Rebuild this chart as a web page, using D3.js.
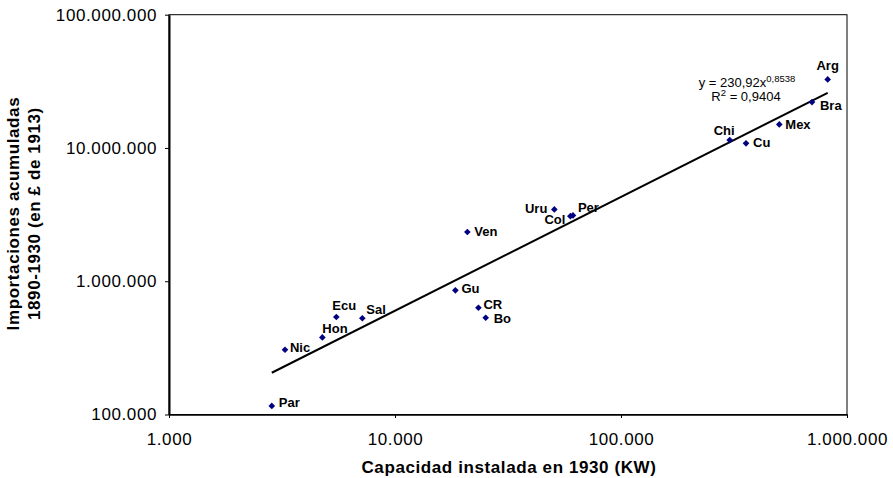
<!DOCTYPE html>
<html>
<head>
<meta charset="utf-8">
<script src="https://cdn.jsdelivr.net/npm/d3@7"></script>
<style>
  body { margin: 0; background: #fff; }
  text { font-family: "Liberation Sans", Arial, Helvetica, sans-serif; }
</style>
</head>
<body>
<svg id="chart" width="893" height="478"></svg>
<script>
// *********** DATA ***************** //
var countries = ["Par", "Nic", "Hon", "Ecu", "Sal", "Gu", "CR", "Bo", "Ven",
                 "Uru", "Col", "Per", "Chi", "Cu", "Mex", "Bra", "Arg"];
// installed capacity in 1930 (KW)
var capacity = [2850, 3260, 4770, 5500, 7170, 18500, 23400, 25200, 20900,
                50700, 59700, 61300, 302700, 357400, 501700, 700000, 821400];
// accumulated imports 1890-1930 (GBP of 1913)
var imports = [116000, 306000, 379000, 539000, 527000, 854000, 633000, 532000, 2340000,
               3460000, 3080000, 3120000, 11460000, 10830000, 15030000, 22100000, 32700000];

var xTicks = [1000, 10000, 100000, 1000000];
var yTicks = [100000, 1000000, 10000000, 100000000];

// power trendline y = a * x^b
var trendA = 230.92, trendB = 0.8538;
var trendLabel = ["y = 230,92x", "0,8538"];
var r2Label = "0,9404";

// label placement next to each marker: [dx, dy, anchor]
var labelOffsets = {
  Par: [7, 1, "start"], Nic: [5, 2, "start"], Hon: [0, -4, "start"],
  Ecu: [-4, -7, "start"], Sal: [4, -4, "start"], Gu: [6, 2.5, "start"],
  CR: [5, 1, "start"], Bo: [8, 5, "start"], Ven: [7, 4, "start"],
  Uru: [-7, 4, "end"], Col: [-5, 8, "end"], Per: [5, -3, "start"],
  Chi: [-16, -5, "start"], Cu: [7, 4, "start"], Mex: [6, 5, "start"],
  Bra: [8, 8, "start"], Arg: [0, -9, "middle"]
};

var points = countries.map(function(c, i) {
  return { name: c, x: capacity[i], y: imports[i] };
});

// *********** SCALES ***************** //
var plotLeft = 169, plotRight = 847, plotTop = 14.7, plotBottom = 414.5;

var x = d3.scaleLog().domain([1000, 1000000]).range([plotLeft, plotRight]);
var y = d3.scaleLog().domain([100000, 100000000]).range([plotBottom, plotTop]);

var locale = d3.formatLocale({ decimal: ",", thousands: ".", grouping: [3], currency: ["", ""] });
var fmt = locale.format(",");

var svg = d3.select("#chart");

// plot frame (top & right thin)
svg.append("rect")
  .attr("x", plotLeft)
  .attr("y", plotTop)
  .attr("width", plotRight - plotLeft)
  .attr("height", plotBottom - plotTop)
  .attr("fill", "none")
  .attr("stroke", "#000")
  .attr("stroke-width", 1);

// *********** AXES ***************** //
var xAxis = svg.append("g")
  .attr("transform", "translate(0," + plotBottom + ")")
  .call(d3.axisBottom(x).tickValues(xTicks).tickFormat(fmt).tickSizeOuter(0).tickSizeInner(3.5).tickPadding(15));
xAxis.select(".domain").attr("stroke-width", 1.5);
xAxis.selectAll(".tick line").attr("stroke-width", 1);
xAxis.selectAll("text")
  .style("font-size", "17px")
  .style("letter-spacing", "0.6px")
  .attr("fill", "#000");

var yAxis = svg.append("g")
  .attr("transform", "translate(" + plotLeft + ",0)")
  .call(d3.axisLeft(y).tickValues(yTicks).tickFormat(fmt).tickSizeOuter(0).tickSizeInner(4).tickPadding(8));
yAxis.select(".domain").attr("stroke-width", 2);
yAxis.selectAll(".tick line").attr("stroke-width", 1);
yAxis.selectAll("text")
  .style("font-size", "17px")
  .style("letter-spacing", "0.6px")
  .attr("fill", "#000");

// axis titles
svg.append("text")
  .attr("x", (plotLeft + plotRight) / 2 + 1)
  .attr("y", 473)
  .attr("text-anchor", "middle")
  .style("font-size", "17px")
  .style("font-weight", "bold")
  .style("letter-spacing", "0.6px")
  .text("Capacidad instalada en 1930 (KW)");

var yTitle = svg.append("text")
  .attr("transform", "translate(0," + ((plotTop + plotBottom) / 2 - 1) + ") rotate(-90)")
  .attr("text-anchor", "middle")
  .style("font-size", "17px")
  .style("font-weight", "bold")
  .style("letter-spacing", "0.6px");
yTitle.append("tspan").attr("x", 0).attr("y", 19).text("Importaciones acumuladas");
yTitle.append("tspan").attr("x", 0).attr("y", 40).text("1890-1930 (en \u00a3 de 1913)");

// *********** TRENDLINE ***************** //
var xMin = d3.min(capacity), xMax = d3.max(capacity);
var trend = [xMin, xMax].map(function(v) { return { x: v, y: trendA * Math.pow(v, trendB) }; });

svg.append("path")
  .datum(trend)
  .attr("d", d3.line().x(function(d) { return x(d.x); }).y(function(d) { return y(d.y); }))
  .attr("fill", "none")
  .attr("stroke", "#000")
  .attr("stroke-width", 2);

// equation
var eq = svg.append("text")
  .attr("x", 747)
  .attr("y", 86.7)
  .attr("text-anchor", "middle")
  .style("font-size", "13px");
eq.append("tspan").text(trendLabel[0]);
eq.append("tspan").attr("dy", -5).style("font-size", "9.5px").text(trendLabel[1]);

var r2 = svg.append("text")
  .attr("x", 746)
  .attr("y", 101)
  .attr("text-anchor", "middle")
  .style("font-size", "13px");
r2.append("tspan").text("R");
r2.append("tspan").attr("dy", -5).style("font-size", "9.5px").text("2");
r2.append("tspan").attr("dy", 5).text(" = " + r2Label);

// *********** MARKERS ***************** //
var diamond = d3.symbol().type(d3.symbolSquare).size(22);

svg.selectAll(".pt")
  .data(points)
  .enter().append("path")
  .attr("class", "pt")
  .attr("d", diamond)
  .attr("transform", function(d) { return "translate(" + x(d.x) + "," + y(d.y) + ") rotate(45)"; })
  .attr("fill", "#000080");

svg.selectAll(".lbl")
  .data(points)
  .enter().append("text")
  .attr("class", "lbl")
  .attr("x", function(d) { return x(d.x) + labelOffsets[d.name][0]; })
  .attr("y", function(d) { return y(d.y) + labelOffsets[d.name][1]; })
  .attr("text-anchor", function(d) { return labelOffsets[d.name][2]; })
  .style("font-size", "13px")
  .style("font-weight", "bold")
  .text(function(d) { return d.name; });
</script>
</body>
</html>
